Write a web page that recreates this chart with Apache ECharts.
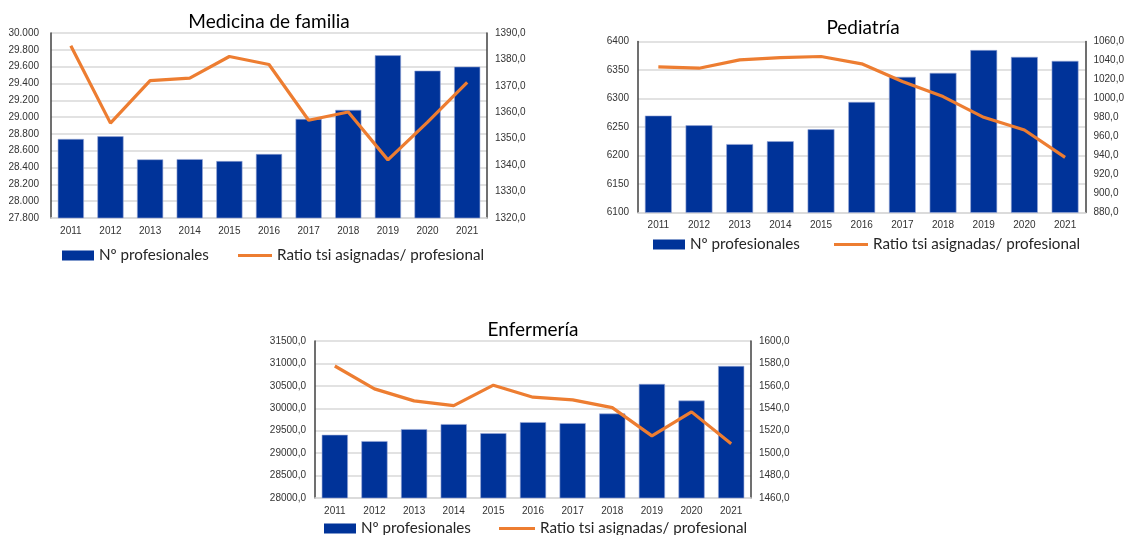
<!DOCTYPE html>
<html>
<head>
<meta charset="utf-8">
<script src="https://cdn.jsdelivr.net/npm/echarts@6/dist/echarts.min.js"></script>
<style>
	html, body { margin: 0; padding: 0; background: #fff; }
	#main { width: 1127px; height: 535px; }
</style>
</head>
<body>
<div id="main"></div>
<script>
var years = [ '2011', '2012', '2013', '2014', '2015', '2016', '2017', '2018', '2019', '2020', '2021' ];

// Medicina de familia
var mfProfesionales = [ 28740, 28772, 28497, 28500, 28477, 28561, 28979, 29086, 29735, 29552, 29600 ];
var mfRatio = [ 1385.2, 1355.9, 1372.0, 1372.9, 1381.1, 1378.1, 1357.0, 1360.1, 1342.0, 1356.3, 1371.3 ];

// Pediatría
var pedProfesionales = [ 6270, 6253, 6220, 6225, 6246, 6294, 6338, 6345, 6385, 6373, 6366 ];
var pedRatio = [ 1033.3, 1031.9, 1040.7, 1043.1, 1044.2, 1036.5, 1017.8, 1002.0, 980.2, 966.8, 938.0 ];

// Enfermería
var enfProfesionales = [ 29409, 29268, 29535, 29647, 29446, 29691, 29669, 29883, 30543, 30172, 30944 ];
var enfRatio = [ 1577.7, 1557.3, 1546.6, 1542.4, 1560.6, 1549.9, 1547.5, 1540.6, 1515.4, 1536.8, 1508.3 ];

var BAR_NAME = 'Nº profesionales';
var LINE_NAME = 'Ratio tsi asignadas/ profesional';
var BLUE = '#003399';
var ORANGE = '#ED7D31';
var LEGEND_LH = 18;

function fmtDot(v) {
	return String(v).replace(/\B(?=(\d{3})+(?!\d))/g, '.');
}
function fmtComma(v) {
	return v.toFixed(1).replace('.', ',');
}

function xAxisFor(idx) {
	return {
		type : 'category',
		gridIndex : idx,
		data : years,
		axisLine : { lineStyle : { color : '#d9d9d9', width : 1.5 } },
		axisTick : { show : false },
		axisLabel : { color : '#333', fontFamily : 'Liberation Sans', fontSize : 10, margin : 8 }
	};
}

function leftAxis(idx, min, max, step, fmt, margin) {
	return {
		type : 'value',
		gridIndex : idx,
		min : min,
		max : max,
		interval : step,
		axisLine : { show : true, lineStyle : { color : '#404040', width : 1.5 } },
		axisTick : { show : false },
		splitLine : { lineStyle : { color : '#d9d9d9', width : 1.5 } },
		axisLabel : { color : '#333', fontFamily : 'Liberation Sans', fontSize : 10, margin : margin, formatter : fmt }
	};
}

function rightAxis(idx, min, max, step) {
	return {
		type : 'value',
		gridIndex : idx,
		position : 'right',
		min : min,
		max : max,
		interval : step,
		axisLine : { show : true, lineStyle : { color : '#404040', width : 1.5 } },
		axisTick : { show : false },
		splitLine : { show : false },
		axisLabel : { color : '#333', fontFamily : 'Liberation Sans', fontSize : 10, margin : 8, formatter : fmtComma }
	};
}

function barSeries(idx, data) {
	return {
		name : BAR_NAME,
		type : 'bar',
		xAxisIndex : idx,
		yAxisIndex : idx * 2,
		data : data,
		barCategoryGap : '34%',
		itemStyle : { color : BLUE, borderColor : '#9aaad6', borderWidth : 0.6 }
	};
}

function lineSeries(idx, data) {
	return {
		name : LINE_NAME,
		type : 'line',
		xAxisIndex : idx,
		yAxisIndex : idx * 2 + 1,
		data : data,
		symbol : 'none',
		z : 5,
		lineStyle : { color : ORANGE, width : 3.2 },
		itemStyle : { color : ORANGE }
	};
}

// legend box top is the text top, so centre everything on the text line
function legendItem(name, left, centerY, w, h, color) {
	return {
		data : [ { name : name, icon : 'rect', itemStyle : { color : color, borderWidth : 0 } } ],
		left : left,
		top : centerY - LEGEND_LH / 2,
		padding : 0,
		itemWidth : w,
		itemHeight : h,
		selectedMode : false,
		textStyle : { fontFamily : 'Lato', fontSize : 15.2, lineHeight : LEGEND_LH, color : '#262626' }
	};
}

function titleItem(text, cx, top) {
	return {
		text : text,
		left : cx,
		top : top,
		padding : 0,
		textAlign : 'center',
		textStyle : { fontFamily : 'Lato', fontSize : 19, fontWeight : 'normal', color : '#000', lineHeight : 22 }
	};
}

var myChart = echarts.init(document.getElementById('main'));

myChart.setOption({
	animation : false,
	backgroundColor : '#fff',
	title : [
		titleItem('Medicina de familia', 269, 11),
		titleItem('Pediatría', 863, 16.5),
		titleItem('Enfermería', 533, 319)
	],
	legend : [
		legendItem(BAR_NAME, 62, 255.5, 32, 10, BLUE),
		legendItem(LINE_NAME, 238, 255.5, 34, 3, ORANGE),
		legendItem(BAR_NAME, 653, 244.5, 32, 10, BLUE),
		legendItem(LINE_NAME, 834, 244.5, 34, 3, ORANGE),
		legendItem(BAR_NAME, 324, 528.5, 32, 10, BLUE),
		legendItem(LINE_NAME, 499, 528.5, 36, 3, ORANGE)
	],
	grid : [
		{ left : 51, top : 33, width : 436, height : 185 },
		{ left : 638, top : 41.5, width : 449, height : 171 },
		{ left : 315, top : 341, width : 436, height : 157 }
	],
	xAxis : [ xAxisFor(0), xAxisFor(1), xAxisFor(2) ],
	yAxis : [
		leftAxis(0, 27800, 30000, 200, fmtDot, 12),
		rightAxis(0, 1320, 1390, 10),
		leftAxis(1, 6100, 6400, 50, function(v) { return String(v); }, 9),
		rightAxis(1, 880, 1060, 20),
		leftAxis(2, 28000, 31500, 500, fmtComma, 9),
		rightAxis(2, 1460, 1600, 20)
	],
	series : [
		barSeries(0, mfProfesionales),
		lineSeries(0, mfRatio),
		barSeries(1, pedProfesionales),
		lineSeries(1, pedRatio),
		barSeries(2, enfProfesionales),
		lineSeries(2, enfRatio)
	]
});
</script>
</body>
</html>
